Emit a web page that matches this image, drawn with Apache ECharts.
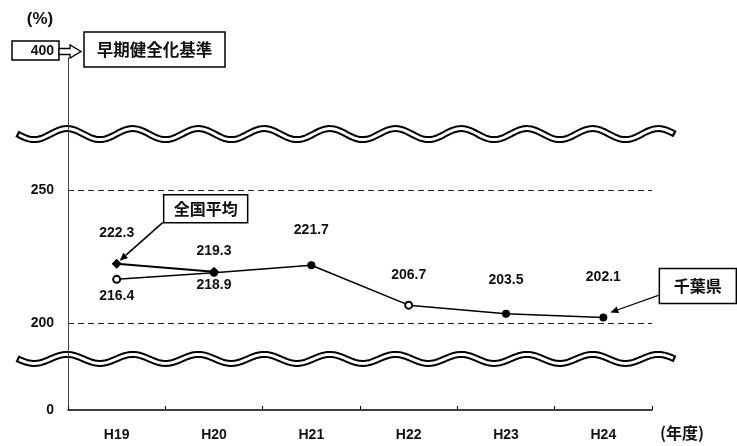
<!DOCTYPE html>
<html>
<head>
<meta charset="utf-8">
<script src="https://cdn.jsdelivr.net/npm/echarts@6/dist/echarts.min.js"></script>
<style>
  html, body { margin: 0; padding: 0; background: #fff; }
  #chart { width: 737px; height: 446px; }
</style>
</head>
<body>
<div id="chart"></div>
<script>
// Fiscal years (Heisei)
const years = ['H19', 'H20', 'H21', 'H22', 'H23', 'H24'];
// Ratio for Chiba prefecture (%)
const chibaRatio = [216.4, 218.9, 221.7, 206.7, 203.5, 202.1];
// National average (%), only reported for the first two years
const nationalAvg = [222.3, 219.3, null, null, null, null];
// Gridline values on the linear part of the axis
const yTickValues = [200, 250];
// Bottom of the broken axis is labelled as zero
const yZeroLabel = '0';
// Early-warning threshold shown above the top break
const earlyWarningLevel = 400;
const earlyWarningText = '早期健全化基準';
const seriesNames = ['千葉県', '全国平均'];
const unitText = '(%)';
const yearUnitText = '(年度)';

// Visible window of the linear axis segment
const yMin = 167.3;
const yMax = 299.6;
// Where the two wavy break symbols sit on the axis
const upperBreakAt = 271;
const lowerBreakAt = 186.5;

const FONT = "'Liberation Sans', 'Noto Sans CJK JP', sans-serif";
const CJK = "'Noto Sans CJK JP', sans-serif";

// Label placement for each point (styling only)
const chibaLabelPos = ['bottom', 'bottom', 'top', 'top', 'top', 'top'];
const chibaLabelDist = [5, 1, 24, 19, 23, 29];
const nationalLabelDist = [19, 9];
const hollowIdx = [0, 3];

const chart = echarts.init(document.getElementById('chart'), null, { renderer: 'canvas' });

const labelStyle = {
  fontFamily: FONT, fontWeight: 'bold', fontSize: 14, color: '#111'
};

const chibaData = chibaRatio.map((v, i) => ({
  value: v,
  symbol: hollowIdx.includes(i) ? 'emptyCircle' : 'circle',
  symbolSize: hollowIdx.includes(i) ? 7 : 8,
  itemStyle: hollowIdx.includes(i)
    ? { color: '#000', borderColor: '#000', borderWidth: 2.5 }
    : { color: '#000' },
  label: Object.assign({
    show: true,
    position: chibaLabelPos[i],
    distance: chibaLabelDist[i],
    formatter: p => p.value.toFixed(1)
  }, labelStyle)
}));

const nationalData = nationalAvg.map((v, i) => v == null ? null : ({
  value: v,
  label: Object.assign({
    show: true,
    position: 'top',
    distance: nationalLabelDist[i],
    formatter: p => p.value.toFixed(1)
  }, labelStyle)
}));

chart.setOption({
  animation: false,
  backgroundColor: '#fff',
  grid: { left: 68, right: 85, top: 58, bottom: 36, containLabel: false },
  xAxis: {
    type: 'category',
    data: years,
    boundaryGap: true,
    z: 10,
    axisLine: { show: true, lineStyle: { color: '#000', width: 1.5 } },
    axisTick: { show: true, inside: true, length: 4, lineStyle: { color: '#000', width: 1 } },
    axisLabel: { margin: 18, fontFamily: FONT, fontWeight: 'bold', fontSize: 14, color: '#111' },
    name: yearUnitText,
    nameLocation: 'end',
    nameGap: 8,
    nameTextStyle: {
      fontFamily: CJK, fontWeight: 'bold', fontSize: 16, color: '#111',
      verticalAlign: 'top', padding: [15, 0, 0, 0]
    },
    splitLine: { show: false }
  },
  yAxis: {
    type: 'value',
    min: yMin,
    max: yMax,
    z: 10,
    axisLine: { show: true, lineStyle: { color: '#444', width: 1 } },
    axisTick: { show: false },
    splitLine: { show: false },
    axisLabel: {
      customValues: [yMin].concat(yTickValues),
      margin: 14,
      fontFamily: FONT, fontWeight: 'bold', fontSize: 14, color: '#111',
      formatter: v => (Math.abs(v - yMin) < 0.01 ? yZeroLabel : String(v))
    }
  },
  series: [
    {
      name: seriesNames[0],
      type: 'line',
      data: chibaData,
      symbolSize: 8,
      z: 3,
      lineStyle: { color: '#000', width: 1.5 },
      markLine: {
        silent: true,
        symbol: 'none',
        label: { show: false },
        lineStyle: { type: [6, 4], color: '#222', width: 1 },
        data: yTickValues.map(v => ({ yAxis: v }))
      }
    },
    {
      name: seriesNames[1],
      type: 'line',
      data: nationalData,
      symbol: 'diamond',
      symbolSize: 10,
      z: 4,
      connectNulls: false,
      itemStyle: { color: '#000' },
      lineStyle: { color: '#000', width: 2 }
    }
  ]
});

// ---- annotations: breaks, threshold box, callouts ----
function wavePoints(cy, amp, x0, x1) {
  const pts = [];
  const period = 65.7, peakX = 67;
  for (let x = x0; x <= x1; x += 1) {
    pts.push([x, cy - amp * Math.cos(2 * Math.PI * (x - peakX) / period)]);
  }
  return pts;
}

function breakSymbol(cy, amp) {
  return [
    { type: 'polyline', z: 1, shape: { points: wavePoints(cy, amp, 17, 675) },
      style: { stroke: '#000', lineWidth: 7, fill: null, lineJoin: 'round' } },
    { type: 'polyline', z: 1, shape: { points: wavePoints(cy, amp, 19, 673) },
      style: { stroke: '#fff', lineWidth: 3, fill: null, lineJoin: 'round' } }
  ];
}

function arrow(from, to, width) {
  const dx = to[0] - from[0], dy = to[1] - from[1];
  const len = Math.sqrt(dx * dx + dy * dy);
  const ux = dx / len, uy = dy / len;
  const hl = 8, hw = 3.5;
  const bx = to[0] - ux * hl, by = to[1] - uy * hl;
  return [
    { type: 'line', z: 20, shape: { x1: from[0], y1: from[1], x2: bx, y2: by },
      style: { stroke: '#000', lineWidth: width } },
    { type: 'polygon', z: 20,
      shape: { points: [to, [bx - uy * hw, by + ux * hw], [bx + uy * hw, by - ux * hw]] },
      style: { fill: '#000' } }
  ];
}

function textBox(x, y, w, h, text, size) {
  return [
    { type: 'rect', z: 20, shape: { x: x, y: y, width: w, height: h },
      style: { fill: '#fff', stroke: '#000', lineWidth: 1.5 } },
    { type: 'text', z: 21, x: x + w / 2, y: y + h / 2,
      style: { text: text, fontFamily: CJK, fontWeight: 'bold', fontSize: size, fill: '#111',
               align: 'center', verticalAlign: 'middle' } }
  ];
}

const yUp = chart.convertToPixel({ yAxisIndex: 0 }, upperBreakAt);
const yLow = chart.convertToPixel({ yAxisIndex: 0 }, lowerBreakAt);
const natPt = chart.convertToPixel({ seriesIndex: 1 }, [0, nationalAvg[0]]);
const chibaLast = chibaRatio.length - 1;
const chibaPt = chart.convertToPixel({ seriesIndex: 0 }, [chibaLast, chibaRatio[chibaLast]]);

const elements = [];
elements.push(...breakSymbol(yUp, 5.5));
elements.push(...breakSymbol(yLow, 4.5));

// unit
elements.push({ type: 'text', z: 21, x: 40, y: 19,
  style: { text: unitText, fontFamily: FONT, fontWeight: 'bold', fontSize: 17, fill: '#111',
           align: 'center', verticalAlign: 'middle' } });

// threshold value box with block arrow
elements.push({ type: 'rect', z: 20, shape: { x: 12, y: 41, width: 47, height: 19 },
  style: { fill: '#fff', stroke: '#000', lineWidth: 1.5 } });
elements.push({ type: 'text', z: 21, x: 54, y: 51,
  style: { text: String(earlyWarningLevel), fontFamily: FONT, fontWeight: 'bold', fontSize: 14,
           fill: '#111', align: 'right', verticalAlign: 'middle' } });
elements.push({ type: 'polygon', z: 20,
  shape: { points: [[59, 48.5], [70, 48.5], [70, 45], [81, 51.5], [70, 58], [70, 54.5], [59, 54.5]] },
  style: { fill: '#fff', stroke: '#000', lineWidth: 1.3 } });
elements.push(...textBox(84, 32, 141, 35, earlyWarningText, 16.5));

// national average callout
const natTip = [natPt[0] + 3, natPt[1] - 3];
const natFrom = [natPt[0] + 46, natPt[1] - 41];
elements.push(...arrow(natFrom, natTip, 1.5));
elements.push(...textBox(natPt[0] + 47, natPt[1] - 69, 84, 28, seriesNames[1], 16));

// Chiba callout
const chTip = [chibaPt[0] + 7, chibaPt[1] - 5];
const chFrom = [chibaPt[0] + 55, chibaPt[1] - 22];
elements.push(...arrow(chFrom, chTip, 1.2));
elements.push(...textBox(chibaPt[0] + 56, chibaPt[1] - 49, 77, 35, seriesNames[0], 16));

chart.setOption({ graphic: { elements: elements } });
</script>
</body>
</html>
